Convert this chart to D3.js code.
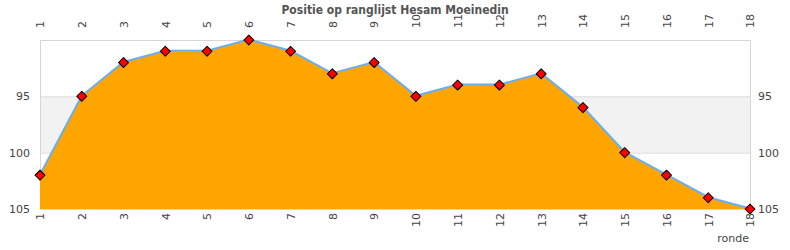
<!DOCTYPE html>
<html>
<head>
<meta charset="utf-8">
<script src="https://cdn.jsdelivr.net/npm/d3@7"></script>
<style>
  body { margin: 0; background: #fff; }
  text { font-family: "DejaVu Sans", sans-serif; fill: #444; }
</style>
</head>
<body>
<div id="chart"></div>
<script>
const width = 790,
  height = 250;

// data
const rounds = [1, 2, 3, 4, 5, 6, 7, 8, 9, 10, 11, 12, 13, 14, 15, 16, 17, 18];
const positions = [102, 95, 92, 91, 91, 90, 91, 93, 92, 95, 94, 94, 93, 96, 100, 102, 104, 105];
const yTicks = [95, 100, 105];
const titleText = 'Positie op ranglijst Hesam Moeinedin';
const xLabel = 'ronde';

const margin = {top: 40, right: 40, bottom: 41, left: 40};

const svg = d3.select('#chart').append('svg')
  .attr('width', width)
  .attr('height', height);

const x = d3.scaleLinear()
  .domain([1, 18])
  .range([margin.left, width - margin.right]);

const y = d3.scaleLinear()
  .domain([90, 105])
  .range([margin.top, height - margin.bottom]);

const data = rounds.map((r, i) => ({round: r, pos: positions[i]}));

// shaded band between 95 and 100
svg.append('rect')
  .attr('x', x(1))
  .attr('y', y(95))
  .attr('width', x(18) - x(1))
  .attr('height', y(100) - y(95))
  .attr('fill', '#f2f2f2');

// grid lines
svg.append('g')
  .selectAll('line')
  .data(yTicks)
  .enter().append('line')
  .attr('x1', x(1))
  .attr('x2', x(18))
  .attr('y1', d => y(d) + 0.5)
  .attr('y2', d => y(d) + 0.5)
  .attr('stroke', '#ddd');

// plot frame
svg.append('rect')
  .attr('x', x(1) + 0.5)
  .attr('y', y(90) + 0.5)
  .attr('width', x(18) - x(1))
  .attr('height', y(105) - y(90))
  .attr('fill', 'none')
  .attr('stroke', '#d6d6d6');

// area
const area = d3.area()
  .x(d => x(d.round))
  .y0(y(105))
  .y1(d => y(d.pos));

svg.append('path')
  .datum(data)
  .attr('d', area)
  .attr('fill', '#ffa500');

const line = d3.line()
  .x(d => x(d.round))
  .y(d => y(d.pos) - 0.5);

svg.append('path')
  .datum(data)
  .attr('d', line)
  .attr('fill', 'none')
  .attr('stroke', '#6aaef0')
  .attr('stroke-width', 2);

// markers
const diamond = d3.symbol().type(d3.symbolSquare).size(50);
svg.append('g')
  .selectAll('path')
  .data(data)
  .enter().append('path')
  .attr('d', diamond)
  .attr('transform', d => 'translate(' + x(d.round) + ',' + y(d.pos) + ') rotate(45)')
  .attr('fill', '#ff0000')
  .attr('stroke', '#000')
  .attr('stroke-width', 1)
  .attr('stroke-linejoin', 'round');

// axes
const xTop = d3.axisTop(x).tickValues(rounds).tickFormat(d3.format('d')).tickSize(0).tickPadding(0);
const xBottom = d3.axisBottom(x).tickValues(rounds).tickFormat(d3.format('d')).tickSize(0).tickPadding(0);

const gTop = svg.append('g')
  .attr('transform', 'translate(0,' + (margin.top - 12) + ')')
  .call(xTop);
gTop.selectAll('text')
  .attr('transform', 'rotate(-90)')
  .attr('x', 0)
  .attr('y', 0)
  .attr('dx', 0)
  .attr('dy', '0.35em')
  .style('text-anchor', 'start');

const gBottom = svg.append('g')
  .attr('transform', 'translate(0,' + (height - margin.bottom + 4) + ')')
  .call(xBottom);
gBottom.selectAll('text')
  .attr('transform', 'rotate(-90)')
  .attr('x', 0)
  .attr('y', 0)
  .attr('dx', 0)
  .attr('dy', '0.35em')
  .style('text-anchor', 'end');

const yLeft = d3.axisLeft(y).tickValues(yTicks).tickSize(0).tickPadding(10);
const yRight = d3.axisRight(y).tickValues(yTicks).tickSize(0).tickPadding(8);

svg.append('g')
  .attr('transform', 'translate(' + margin.left + ',0)')
  .call(yLeft);
svg.append('g')
  .attr('transform', 'translate(' + (width - margin.right) + ',0)')
  .call(yRight);

svg.selectAll('.domain').remove();
svg.selectAll('.tick text')
  .style('font-family', '"DejaVu Sans", sans-serif')
  .style('font-size', '11px')
  .style('fill', '#444');

// title
svg.append('text')
  .attr('x', width / 2)
  .attr('y', 14)
  .attr('text-anchor', 'middle')
  .style('font-family', '"DejaVu Sans Condensed", "DejaVu Sans", sans-serif')
  .style('font-weight', 'bold')
  .style('font-size', '12px')
  .style('fill', '#555')
  .text(titleText);

// x axis label
svg.append('text')
  .attr('x', x(18) - 1)
  .attr('y', 242)
  .attr('text-anchor', 'end')
  .style('font-size', '11px')
  .text(xLabel);
</script>
</body>
</html>
